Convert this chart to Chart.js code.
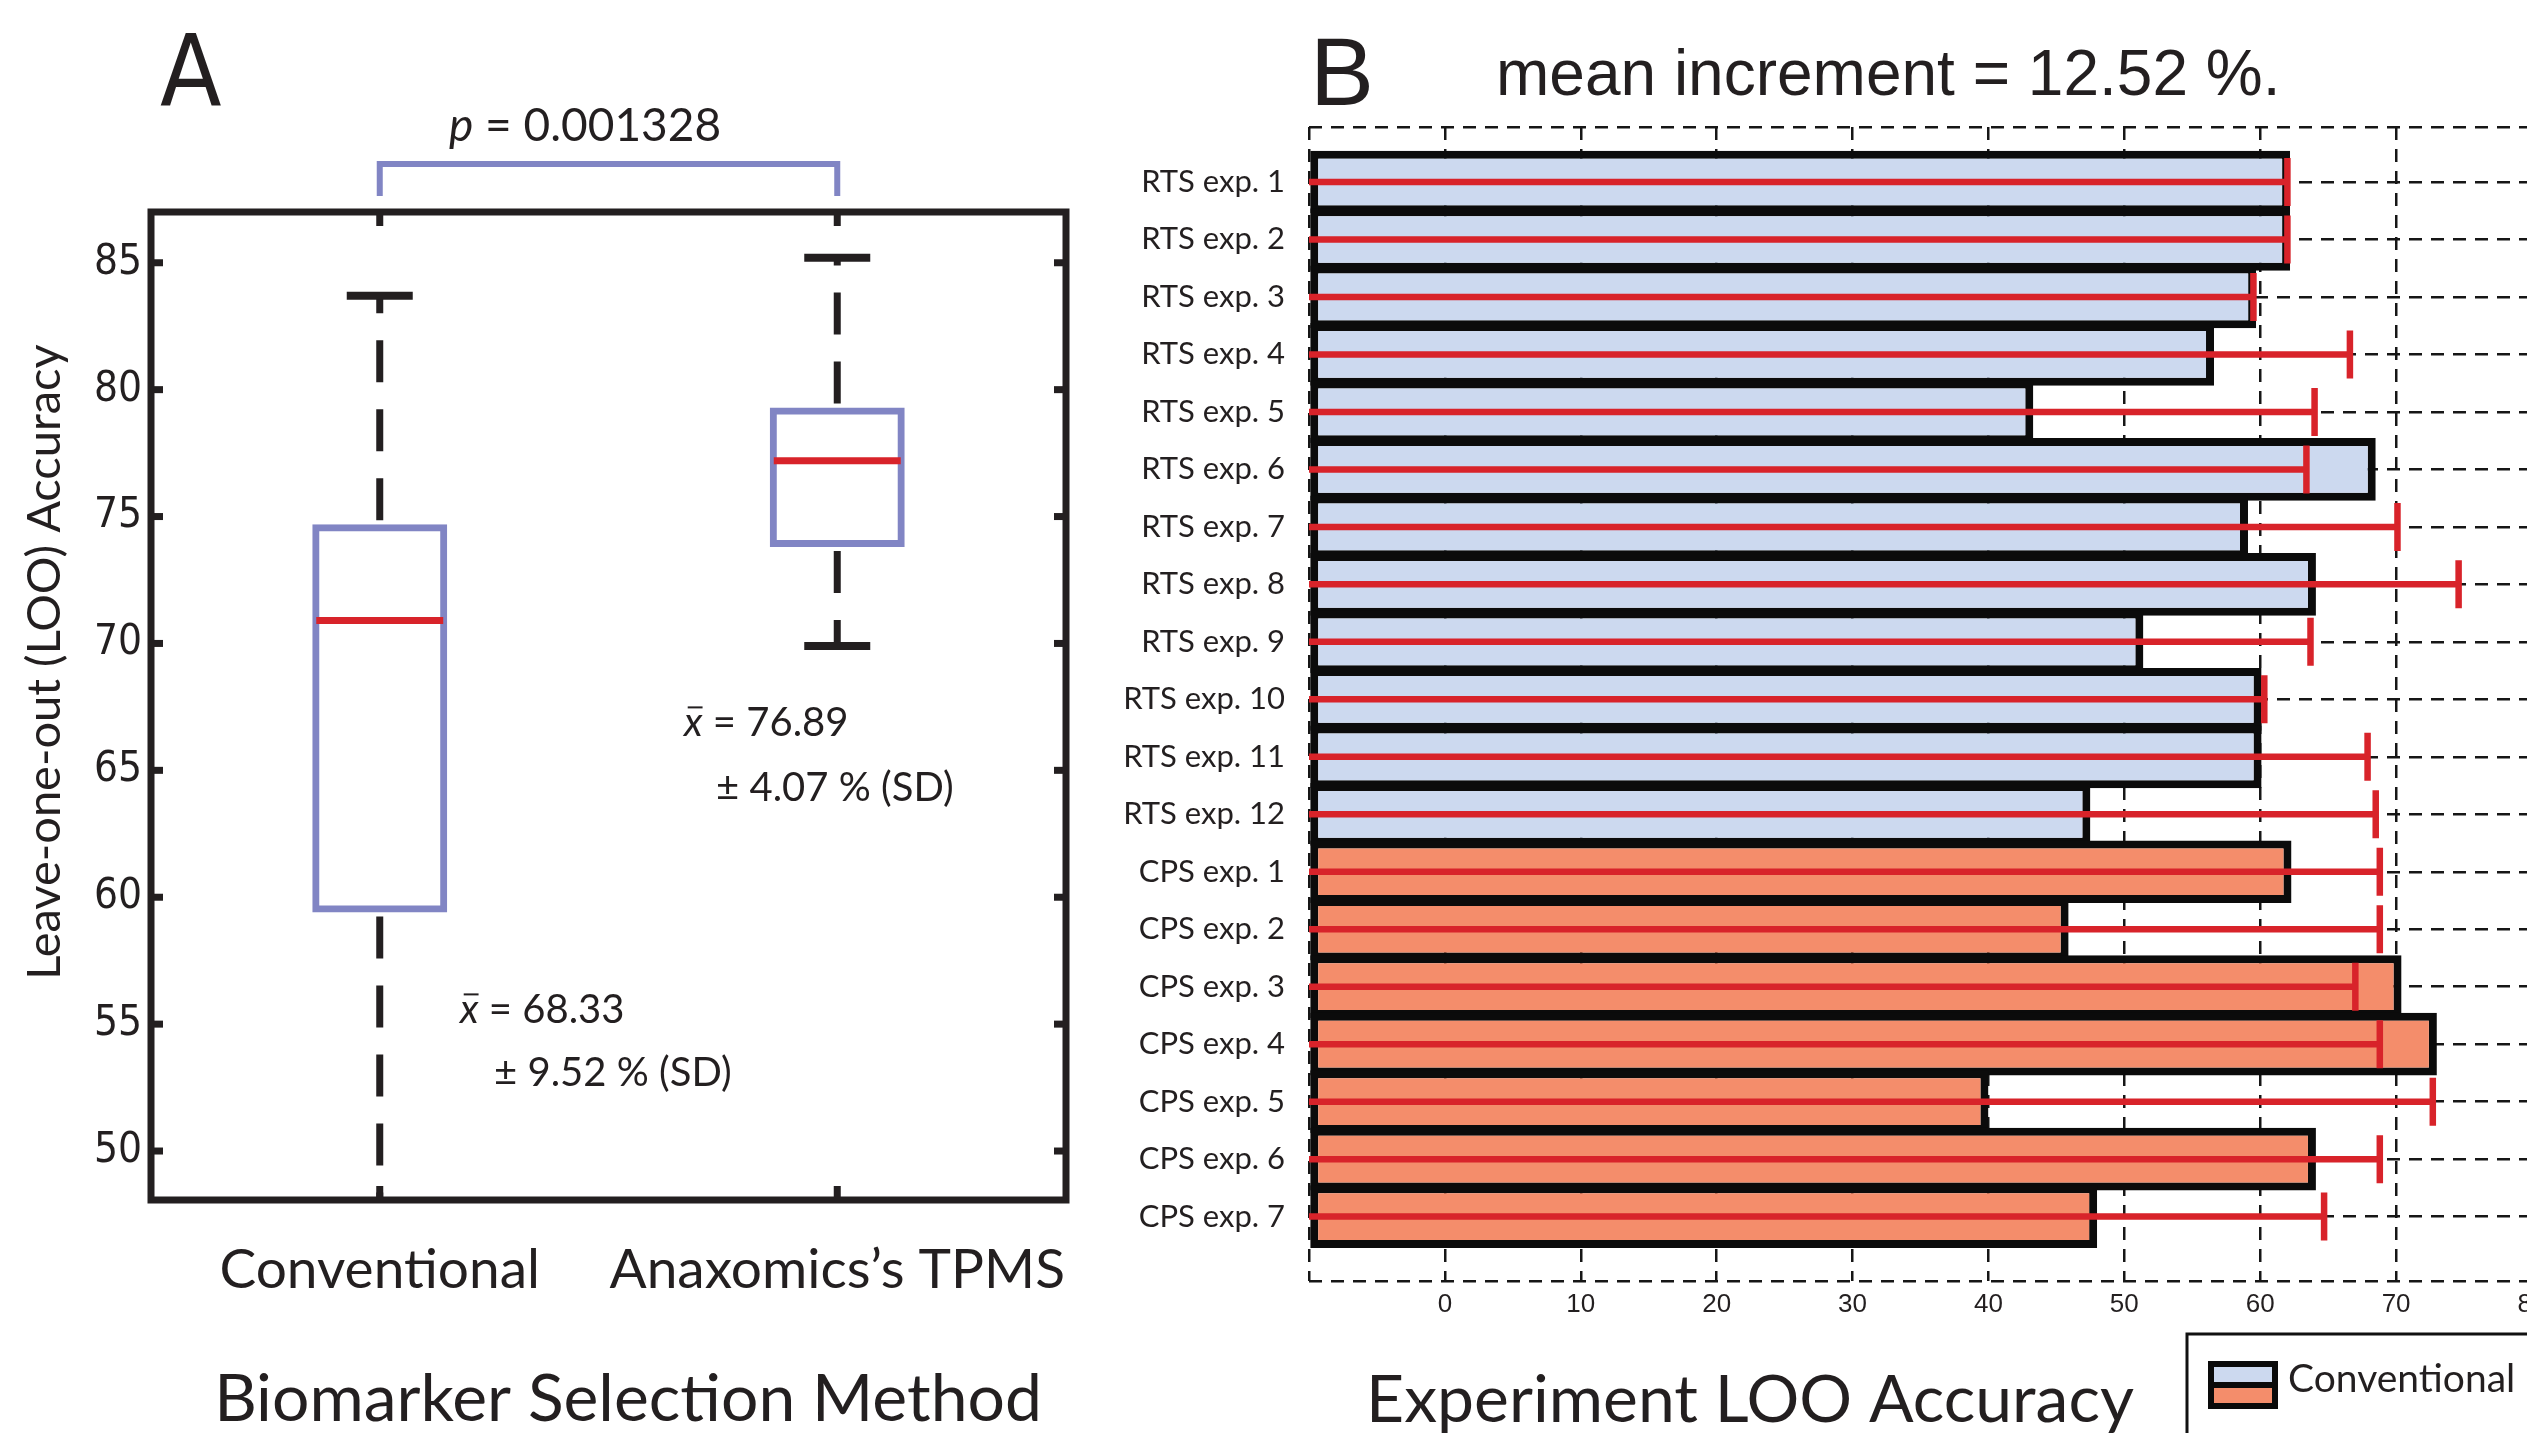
<!DOCTYPE html>
<html>
<head>
<meta charset="utf-8">
<script src="https://cdn.jsdelivr.net/npm/chart.js"></script>
<style>
  html, body { margin: 0; padding: 0; background: #fff; overflow: hidden; width: 2527px; height: 1433px; }
  #boxA { position: absolute; left: 0; top: 0; }
  #barB { position: absolute; left: 1100px; top: 0; }
</style>
</head>
<body>
<canvas id="boxA" width="1200" height="1433"></canvas>
<canvas id="barB" width="1460" height="1433"></canvas>
<script>
// ---- panel A : box plot summary ----
var groups = ['Conventional', 'Anaxomics’s TPMS'];
var boxLow = [59.4, 73.8];
var boxHigh = [74.7, 79.3];
var medians = [70.9, 77.2];
var whiskerLow = [46.5, 69.9];
var whiskerHigh = [83.7, 85.2];
var yTicksA = [50, 55, 60, 65, 70, 75, 80, 85];

// ---- panel B : per experiment accuracy ----
var experiments = ['RTS exp. 1', 'RTS exp. 2', 'RTS exp. 3', 'RTS exp. 4', 'RTS exp. 5', 'RTS exp. 6',
  'RTS exp. 7', 'RTS exp. 8', 'RTS exp. 9', 'RTS exp. 10', 'RTS exp. 11', 'RTS exp. 12',
  'CPS exp. 1', 'CPS exp. 2', 'CPS exp. 3', 'CPS exp. 4', 'CPS exp. 5', 'CPS exp. 6', 'CPS exp. 7'];
var conventional = [62.2, 62.2, 59.7, 56.6, 43.3, 68.5, 59.1, 64.1, 51.4, 60.1, 60.1, 47.5,
  62.3, 45.9, 70.4, 73.0, 40.0, 64.1, 48.0];
var tpms = [62.0, 62.0, 59.5, 66.6, 64.0, 63.4, 70.1, 74.6, 63.7, 60.3, 67.9, 68.5,
  68.8, 68.8, 67.0, 68.8, 72.7, 68.8, 64.7];

var INK = '#231f20';
var BOXBLUE = '#8185c4';
var RED = '#d8232a';
var RTSBLUE = '#ccd9ef';
var CPSORANGE = '#f48d6b';
var NARROW = '"Liberation Sans Narrow", "DejaVu Sans Condensed", Lato, sans-serif';

function italicLead(ctx, lead, rest, left, base, size, bar) {
  ctx.font = 'italic ' + size + 'px Lato';
  var w = ctx.measureText(lead).width;
  ctx.fillText(lead, left, base);
  if (bar) ctx.fillRect(left + w * 0.2, base - size * 0.74, w * 0.8, size * 0.05);
  ctx.font = size + 'px Lato';
  ctx.fillText(rest, left + w, base);
}

var boxExtras = {
  id: 'boxExtras',
  afterDatasetsDraw: function(chart) {
    var ctx = chart.ctx, a = chart.chartArea, x = chart.scales.x, y = chart.scales.y;
    var meta = chart.getDatasetMeta(0);
    ctx.save();
    ctx.beginPath();
    ctx.rect(a.left, a.top, a.right - a.left, a.bottom - a.top);
    ctx.clip();
    groups.forEach(function(g, i) {
      var cx = x.getPixelForValue(i);
      // dashed whiskers
      ctx.strokeStyle = INK;
      ctx.lineWidth = 7;
      ctx.setLineDash([42, 27]);
      ctx.beginPath();
      ctx.moveTo(cx, y.getPixelForValue(boxHigh[i]) - 4);
      ctx.lineTo(cx, y.getPixelForValue(whiskerHigh[i]));
      ctx.stroke();
      ctx.beginPath();
      ctx.moveTo(cx, y.getPixelForValue(boxLow[i]) + 4);
      ctx.lineTo(cx, y.getPixelForValue(whiskerLow[i]));
      ctx.stroke();
      // caps
      ctx.setLineDash([]);
      ctx.lineWidth = 8;
      [whiskerLow[i], whiskerHigh[i]].forEach(function(v) {
        var py = y.getPixelForValue(v);
        ctx.beginPath();
        ctx.moveTo(cx - 33, py);
        ctx.lineTo(cx + 33, py);
        ctx.stroke();
      });
      // median
      var half = meta.data[i].width / 2 - 4;
      ctx.strokeStyle = RED;
      ctx.lineWidth = 7;
      var my = y.getPixelForValue(medians[i]);
      ctx.beginPath();
      ctx.moveTo(cx - half, my);
      ctx.lineTo(cx + half, my);
      ctx.stroke();
    });
    ctx.restore();
  },
  afterDraw: function(chart) {
    var ctx = chart.ctx, a = chart.chartArea, x = chart.scales.x, y = chart.scales.y;
    ctx.save();
    // frame
    ctx.strokeStyle = INK;
    ctx.lineWidth = 7;
    ctx.strokeRect(a.left, a.top, a.right - a.left, a.bottom - a.top);
    // inward ticks
    ctx.fillStyle = INK;
    yTicksA.forEach(function(v) {
      var py = y.getPixelForValue(v);
      ctx.fillRect(a.left, py - 3.5, 12, 7);
      ctx.fillRect(a.right - 12, py - 3.5, 12, 7);
    });
    groups.forEach(function(g, i) {
      var px = x.getPixelForValue(i);
      ctx.fillRect(px - 3.5, a.top, 7, 14);
      ctx.fillRect(px - 3.5, a.bottom - 14, 7, 14);
    });
    // significance bracket
    var x0 = x.getPixelForValue(0), x1 = x.getPixelForValue(1);
    ctx.strokeStyle = BOXBLUE;
    ctx.lineWidth = 6;
    ctx.beginPath();
    ctx.moveTo(x0, a.top - 16);
    ctx.lineTo(x0, a.top - 48);
    ctx.lineTo(x1, a.top - 48);
    ctx.lineTo(x1, a.top - 16);
    ctx.stroke();
    // texts
    ctx.fillStyle = INK;
    ctx.textAlign = 'left';
    ctx.textBaseline = 'alphabetic';
    ctx.font = '300 100px ' + NARROW;
    ctx.fillText('A', 160, 106);
    italicLead(ctx, 'p', ' = 0.001328', 449, 141, 46, false);
    italicLead(ctx, 'x', ' = 76.89', 684, 736, 40, true);
    ctx.font = '40px Lato';
    ctx.fillText('± 4.07 % (SD)', 716, 801);
    italicLead(ctx, 'x', ' = 68.33', 460, 1023, 40, true);
    ctx.font = '40px Lato';
    ctx.fillText('± 9.52 % (SD)', 494, 1086);
    ctx.textAlign = 'center';
    ctx.font = '66px Lato';
    ctx.fillText('Biomarker Selection Method', 628, 1421);
    ctx.translate(45, 662);
    ctx.rotate(-Math.PI / 2);
    ctx.textBaseline = 'middle';
    ctx.font = '47px Lato';
    ctx.fillText('Leave-one-out (LOO) Accuracy', 0, 0);
    ctx.restore();
  }
};

new Chart(document.getElementById('boxA'), {
  type: 'bar',
  data: {
    labels: groups,
    datasets: [{
      data: boxLow.map(function(v, i) { return [v, boxHigh[i]]; }),
      backgroundColor: 'rgba(255,255,255,0)',
      borderColor: BOXBLUE,
      borderWidth: 7,
      borderSkipped: false,
      barPercentage: 0.295,
      categoryPercentage: 1
    }]
  },
  options: {
    responsive: false,
    animation: false,
    devicePixelRatio: 1,
    layout: { padding: { left: 0, top: 212, right: 134, bottom: 0 } },
    plugins: { legend: { display: false }, tooltip: { enabled: false } },
    scales: {
      x: {
        grid: { display: false, drawTicks: false },
        border: { display: false },
        ticks: { autoSkip: false, font: { family: 'Lato', size: 55 }, color: INK, padding: 37, maxRotation: 0 },
        afterFit: function(s) { s.height = 233; }
      },
      y: {
        min: 48.07,
        max: 87,
        afterBuildTicks: function(s) { s.ticks = yTicksA.map(function(v) { return { value: v }; }); },
        grid: { display: false, drawTicks: false },
        border: { display: false },
        ticks: { font: { family: NARROW, size: 42 }, color: INK, padding: 9 },
        afterFit: function(s) { s.width = 151; }
      }
    }
  },
  plugins: [boxExtras]
});

// ---- panel B ----
var yMinB = -0.957, yMaxB = 19.12;

var barExtras = {
  id: 'barExtras',
  afterDatasetsDraw: function(chart) {
    var ctx = chart.ctx, x = chart.scales.x, y = chart.scales.y;
    ctx.save();
    ctx.strokeStyle = RED;
    ctx.lineWidth = 6.5;
    var x0 = x.getPixelForValue(-10);
    tpms.forEach(function(v, i) {
      var py = y.getPixelForValue(i), px = x.getPixelForValue(v);
      ctx.beginPath();
      ctx.moveTo(x0, py);
      ctx.lineTo(px, py);
      ctx.moveTo(px, py - 24);
      ctx.lineTo(px, py + 24);
      ctx.stroke();
    });
    ctx.restore();
  },
  afterDraw: function(chart) {
    var ctx = chart.ctx;
    ctx.save();
    ctx.fillStyle = INK;
    ctx.textAlign = 'left';
    ctx.textBaseline = 'alphabetic';
    ctx.font = '96px "Liberation Sans", Arial, sans-serif';
    ctx.fillText('B', 210, 105);
    ctx.font = '64px "Liberation Sans", Arial, sans-serif';
    ctx.fillText('mean increment = 12.52 %.', 396, 95);
    ctx.textAlign = 'center';
    ctx.font = '66px Lato';
    ctx.fillText('Experiment LOO Accuracy', 650, 1422);
    // legend (clipped at the page edge)
    ctx.strokeStyle = '#111';
    ctx.lineWidth = 3;
    ctx.strokeRect(1087, 1334, 420, 200);
    ctx.fillStyle = '#0a0a0a';
    ctx.fillRect(1108, 1361, 70, 48);
    ctx.fillStyle = RTSBLUE;
    ctx.fillRect(1114, 1367, 58, 15);
    ctx.fillStyle = CPSORANGE;
    ctx.fillRect(1114, 1388, 58, 15);
    ctx.fillStyle = INK;
    ctx.textAlign = 'left';
    ctx.font = '39px Lato';
    ctx.fillText('Conventional', 1188, 1392);
    ctx.restore();
  }
};

var dashGrid = { color: '#161616', lineWidth: 2.5, drawTicks: false, offset: false };
var dashBorder = { display: false, dash: [13, 9] };

new Chart(document.getElementById('barB'), {
  type: 'bar',
  data: {
    datasets: [{
      label: 'Conventional',
      data: conventional.map(function(v, i) { return { x: v, y: i }; }),
      base: -10,
      backgroundColor: experiments.map(function(e) { return e.indexOf('RTS') === 0 ? RTSBLUE : CPSORANGE; }),
      borderColor: '#0b0b0b',
      borderWidth: 8,
      borderSkipped: false,
      barPercentage: 1.14,
      categoryPercentage: 1
    }]
  },
  options: {
    indexAxis: 'y',
    responsive: false,
    animation: false,
    devicePixelRatio: 1,
    layout: { padding: { left: 0, top: 127, right: 28, bottom: 0 } },
    plugins: { legend: { display: false }, tooltip: { enabled: false } },
    scales: {
      x: {
        type: 'linear',
        position: 'bottom',
        min: -10,
        max: 80,
        ticks: {
          stepSize: 10,
          callback: function(v) { return v < 0 ? '' : v; },
          font: { family: '"Liberation Sans", Arial, sans-serif', size: 26 },
          color: INK,
          padding: 8,
          maxRotation: 0
        },
        grid: dashGrid,
        border: dashBorder,
        afterFit: function(s) { s.height = 152; }
      },
      y: {
        type: 'linear',
        reverse: true,
        offset: false,
        min: yMinB,
        max: yMaxB,
        afterBuildTicks: function(s) {
          var t = [{ value: yMinB }];
          experiments.forEach(function(e, i) { t.push({ value: i }); });
          t.push({ value: yMaxB });
          s.ticks = t;
        },
        ticks: {
          autoSkip: false,
          callback: function(v) { return experiments[v] || ''; },
          font: { family: 'Lato', size: 31 },
          color: INK,
          padding: 24
        },
        grid: dashGrid,
        border: dashBorder,
        afterFit: function(s) { s.width = 209; }
      }
    }
  },
  plugins: [barExtras]
});
</script>
</body>
</html>
